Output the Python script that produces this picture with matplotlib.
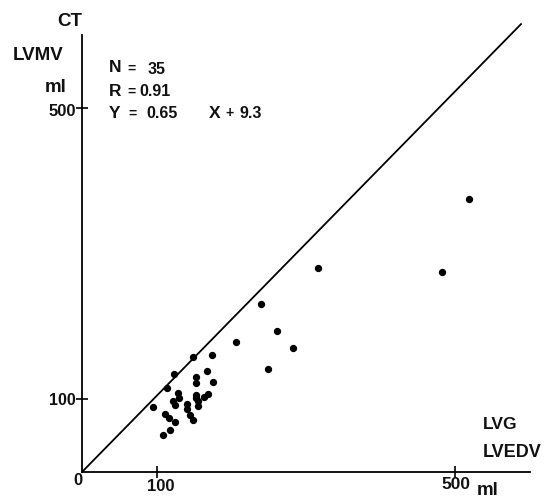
import matplotlib
matplotlib.use("Agg")
import matplotlib.pyplot as plt

# LVG end-diastolic volume (x) vs CT LV volume (y), ml
lvedv = [240, 261, 206, 249, 174, 148, 123, 168, 153, 153, 175, 114,
         128, 130, 122, 125, 153, 153, 169, 164, 155, 155, 140, 140,
         95, 111, 116, 144, 124, 149, 118, 108, 518, 482, 316, 283]
lvmv = [230, 194, 179, 141, 161, 158, 134, 139, 131, 122, 123, 115,
        109, 102, 98, 92, 106, 101, 107, 103, 97, 91, 94, 87,
        89, 79, 74, 78, 69, 71, 58, 51, 375, 275, 280, 170]

# reference line as drawn in the figure
ref_x = [0, 588]
ref_y = [0, 615]

ticks = [100, 500]

W, H = 553, 498
fig = plt.figure(figsize=(W / 100, H / 100), dpi=100)
ax = fig.add_axes([82 / W, (H - 472) / H, 448 / W, 437 / H])
ax.set_xlim(0, 600)
ax.set_ylim(0, 600)

for s in ["top", "right"]:
    ax.spines[s].set_visible(False)
for s in ["left", "bottom"]:
    ax.spines[s].set_linewidth(1.3)
    ax.spines[s].set_color("black")

ax.plot(ref_x, ref_y, color="black", lw=1.3, clip_on=False)
ax.scatter(lvedv, lvmv, s=18, color="black", zorder=3, clip_on=False)

ax.set_xticks(ticks)
ax.set_yticks(ticks)
ax.set_xticklabels([])
ax.set_yticklabels([])
ax.tick_params(direction="inout", length=9, width=1.2, color="black")

font = dict(family=["Liberation Sans", "DejaVu Sans"], weight="bold", color="#111111")


def t(x, y, s, size, ha="left", va="center"):
    fig.text(x / W, 1 - y / H, s, fontsize=size, ha=ha, va=va, **font)


# y axis labels
t(82, 21, "CT", 13.5, ha="right")
t(64, 56, "LVMV", 13.5, ha="right")
t(67, 87, "ml", 13.5, ha="right")
t(76, 111, "500", 12, ha="right")
t(76, 400, "100", 11.5, ha="right")

# x axis labels
t(78, 480, "0", 12, ha="center")
t(161, 486, "100", 12, ha="center")
t(456, 484, "500", 12.5, ha="center")
t(477, 490, "ml", 13.5)
t(483, 424, "LVG", 12.5)
t(483, 452, "LVEDV", 13)

# statistics
t(109, 68, "N", 12.5)
t(127, 69, "=", 10)
t(148, 69, "35", 11.5)
t(109, 91, "R", 12.5)
t(127, 92, "=", 10)
t(139, 92, "0.91", 11.5)
t(109, 113, "Y", 12.5)
t(128, 114, "=", 10)
t(146, 114, "0.65", 11.5)
t(209, 113, "X", 12.5)
t(225, 113, "+", 10)
t(239, 114, "9.3", 11.5)

fig.savefig("out.png", dpi=100)
